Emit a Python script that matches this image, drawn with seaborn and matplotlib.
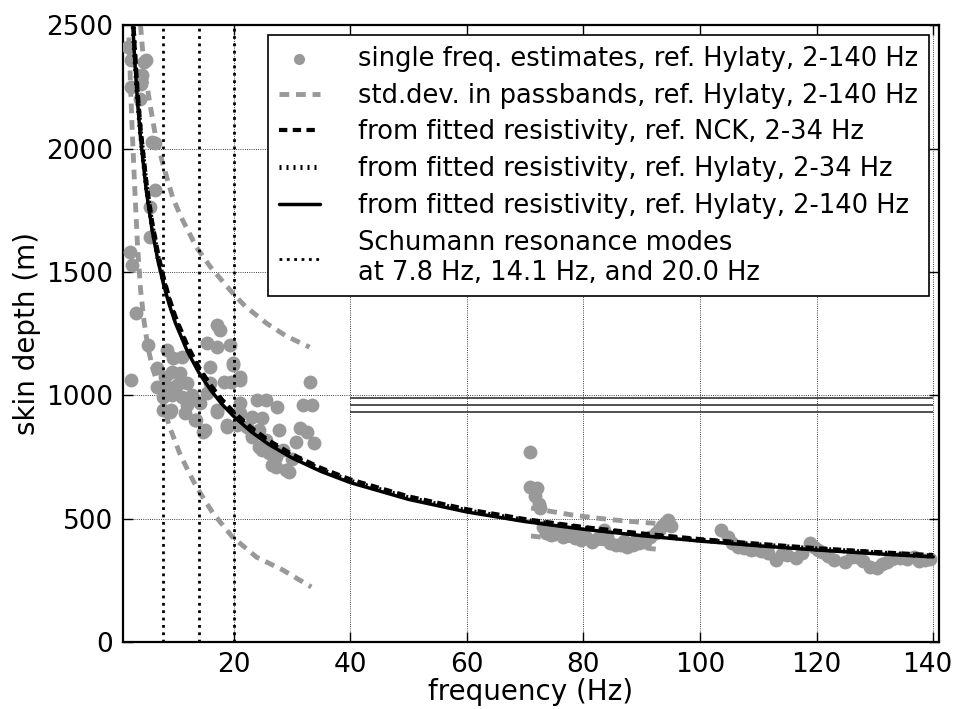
import numpy as np
import matplotlib
matplotlib.use("Agg")
import matplotlib.pyplot as plt
import matplotlib.transforms as mtransforms
import seaborn as sns

# single frequency estimates, 2-34 Hz band
low_f = [1.9, 2.3, 4.6, 4.3, 4.1, 3.9, 2.4, 5.0, 5.9, 6.5, 6.5, 5.6, 5.6, 2.2, 2.5,
         3.2, 5.3, 8.5, 9.5, 11.1, 6.8, 8.2, 9.4, 10.7, 6.8, 8.5, 10.2, 11.9,
         7.8, 9.4, 11.1, 12.8, 9.0, 11.6, 13.3, 12.5, 14.2, 15.4, 15.9, 17.1,
         15.0, 18.8, 15.4, 17.1, 19.3, 17.1, 17.6, 19.8, 21.0, 18.4, 19.6,
         21.0, 23.9, 25.6, 27.5, 31.8, 33.5, 33.0, 27.8, 31.3, 32.6, 33.8,
         30.7, 22.2, 23.2, 24.4, 26.1, 27.3, 29.0, 21.0, 23.1, 24.8, 23.1,
         24.4, 24.8, 27.3, 26.6, 29.5, 13.6, 2.4, 7.8, 9.3, 14.7, 17.1, 18.8,
         19.8, 21.0, 28.5, 30.0, 25.5, 20.5, 16.0, 12.0]
low_y = [2410, 2360, 2350, 2300, 2260, 2200, 2250, 2358, 2026, 2022, 1831, 1763,
         1641, 1580, 1527, 1333, 1203, 1183, 1151, 1155, 1110, 1074, 1094, 1090,
         1033, 1033, 1041, 1049, 993, 1001, 993, 1001, 932, 928, 900, 981, 968,
         1009, 1114, 932, 859, 879, 1211, 1195, 1203, 1284, 1264, 1122, 1074,
         1053, 1053, 968, 981, 981, 952, 960, 960, 1053, 859, 867, 851, 806,
         810, 871, 831, 790, 766, 709, 697, 928, 912, 908, 839, 859, 778, 750,
         717, 689, 900, 1062, 940, 940, 851, 940, 871, 1130, 1062, 780, 740,
         820, 880, 1050, 960]

# single frequency estimates, 70-140 Hz band
high_f = [70.9, 70.8, 72.0, 71.6, 72.3, 72.6, 73.0, 73.5, 74.5, 75.5, 76.5, 77.5,
          78.5, 79.5, 80.5, 81.5, 82.5, 83.5, 84.5, 85.5, 86.5, 87.5, 88.5, 89.5,
          90.5, 91.5, 92.5, 93.0, 93.5, 94.0, 94.5, 95.0,
          74.0, 76.0, 79.0, 84.0, 87.0, 89.0,
          103.6, 104.8, 105.5, 106.5, 107.5, 108.7, 109.5, 110.5, 111.6, 113.0,
          114.0, 115.0, 116.4, 117.5, 118.8, 119.5, 120.2, 121.0, 122.0, 123.0,
          124.8, 126.0, 127.0, 128.0, 129.2, 130.4, 131.2, 132.0, 133.0, 134.3,
          135.5, 136.7, 137.5, 138.6, 139.5]
high_y = [770, 628, 624, 590, 560, 545, 466, 440, 433, 440, 425, 433, 420, 413,
          425, 405, 420, 454, 400, 393, 395, 385, 392, 401, 405, 425, 442, 454,
          470, 482, 494, 470,
          455, 450, 440, 425, 410, 415,
          454, 425, 400, 385, 380, 373, 378, 370, 361, 332, 355, 352, 340, 360,
          401, 385, 373, 365, 350, 332, 324, 345, 344, 330, 304, 300, 318, 324,
          335, 340, 338, 344, 330, 332, 335]

# std. dev. curves in the passbands
std_lo_up_f = [4.0, 4.6, 5.6, 6.5, 7.8, 9.5, 11.0, 13.6, 16.0, 19.8, 22.0, 25.6, 29.0, 33.0]
std_lo_up_y = [2500, 2330, 2184, 2060, 1940, 1803, 1720, 1600, 1520, 1414, 1360, 1292, 1240, 1195]
std_lo_dn_f = [2.0, 2.5, 3.0, 3.5, 4.0, 4.6, 5.3, 6.1, 7.0, 8.0, 9.0, 10.7, 12.1,
               13.6, 16.4, 19.8, 23.9, 28.4, 33.3]
std_lo_dn_y = [2450, 2115, 1844, 1600, 1430, 1300, 1190, 1110, 1040, 950, 871, 766,
               697, 628, 523, 425, 344, 292, 223]
std_hi_up_f = [71.0, 75.0, 78.0, 82.0, 85.5, 90.0, 95.0]
std_hi_up_y = [543, 527, 515, 503, 494, 485, 476]
std_hi_dn_f = [71.0, 75.0, 80.0, 85.0, 90.0, 93.5]
std_hi_dn_y = [430, 418, 405, 395, 383, 373]

# skin depth from fitted resistivity
fit_f = [2, 2.5, 3, 3.5, 4, 5, 6, 7, 8, 9, 10, 12, 14, 16, 18, 20, 23, 26, 30, 35,
         40, 50, 60, 70, 80, 90, 100, 110, 120, 130, 140]
fit_nck = [2947, 2636, 2406, 2228, 2084, 1864, 1701, 1575, 1474, 1389, 1318, 1204,
           1114, 1042, 982, 932, 869, 817, 761, 705, 659, 590, 538, 498, 466, 440,
           417, 398, 380, 365, 352]
fit_hyl34 = [2918, 2610, 2383, 2206, 2063, 1845, 1685, 1559, 1459, 1376, 1305, 1192,
             1103, 1032, 973, 923, 861, 809, 753, 698, 652, 584, 532, 493, 462, 435,
             413, 394, 377, 362, 348]
fit_hyl140 = [2889, 2584, 2359, 2184, 2043, 1827, 1668, 1544, 1445, 1362, 1292, 1180,
              1092, 1022, 963, 914, 852, 801, 746, 691, 646, 578, 527, 488, 457, 431,
              409, 390, 373, 358, 345]

schumann = [7.8, 14.1, 20.0]
stray_y = [989, 961, 931]

sns.set_style("ticks", {"xtick.direction": "in", "ytick.direction": "in",
                        "text.color": "black", "axes.labelcolor": "black",
                        "xtick.color": "black", "ytick.color": "black"})
plt.rcParams['font.family'] = ['DejaVu Sans']

fig = plt.figure(figsize=(9.56, 7.09), dpi=100)
ax = fig.add_axes([0.1287, 0.0945, 0.8535, 0.870])

gray = '#999999'

# std.dev. lines (under the points)
std_kw = dict(color=gray, lw=3.5, linestyle=(0, (2, 1.4)), zorder=2)
l_std, = ax.plot(std_lo_up_f, std_lo_up_y, **std_kw)
ax.plot(std_lo_dn_f, std_lo_dn_y, **std_kw)
ax.plot(std_hi_up_f, std_hi_up_y, **std_kw)
ax.plot(std_hi_dn_f, std_hi_dn_y, **std_kw)

sns.scatterplot(x=low_f + high_f, y=low_y + high_y, ax=ax, color=gray, s=100,
                linewidth=0, zorder=3)
h_pts = ax.collections[-1]

sns.lineplot(x=fit_f, y=fit_hyl140, ax=ax, color='black', lw=2.5,
             estimator=None, sort=False, zorder=4)
h_140 = ax.lines[-1]
sns.lineplot(x=fit_f, y=fit_hyl34, ax=ax, color='black', lw=3.6,
             linestyle=(0, (0.4, 1.0)), estimator=None, sort=False, zorder=5)
h_34 = ax.lines[-1]
sns.lineplot(x=fit_f, y=fit_nck, ax=ax, color='black', lw=3,
             linestyle=(0, (2, 1.3)), estimator=None, sort=False, zorder=6)
h_nck = ax.lines[-1]

for f in schumann:
    h_sch = ax.axvline(f, color='black', lw=2, linestyle=':', zorder=4)

ax.hlines(stray_y, 40, 140, colors='#333333', lw=1.2, zorder=2)

ax.set_xlim(1, 141)
ax.set_ylim(0, 2500)
ax.set_xticks(range(20, 141, 20))
ax.set_yticks(range(0, 2501, 500))
ax.grid(True, color='black', linestyle=':', lw=0.6)
ax.tick_params(axis='both', which='both', top=True, right=True, length=7,
               width=1, labelsize=19, color='black', labelcolor='black', pad=7)
for sp in ax.spines.values():
    sp.set_linewidth(1.6)
    sp.set_color('black')
ax.set_xlabel('frequency (Hz)', fontsize=20, labelpad=0, color='black')
ax.set_ylabel('skin depth (m)', fontsize=20, labelpad=4, color='black')

# keep the last x tick label inside the canvas
fig.canvas.draw()
last = ax.get_xticklabels()[-1]
last.set_transform(last.get_transform() +
                   mtransforms.ScaledTranslation(-6 / 100, 0, fig.dpi_scale_trans))

handles = [h_pts, l_std, h_nck, h_34, h_140, h_sch]
labels = ['single freq. estimates, ref. Hylaty, 2-140 Hz',
          'std.dev. in passbands, ref. Hylaty, 2-140 Hz',
          'from fitted resistivity, ref. NCK, 2-34 Hz',
          'from fitted resistivity, ref. Hylaty, 2-34 Hz',
          'from fitted resistivity, ref. Hylaty, 2-140 Hz',
          'Schumann resonance modes\nat 7.8 Hz, 14.1 Hz, and 20.0 Hz']
leg = ax.legend(handles, labels, loc='upper right', fontsize=18.5, frameon=True,
                fancybox=False, edgecolor='black', framealpha=1,
                labelspacing=0.42, handlelength=1.6, handletextpad=1.5,
                borderaxespad=0.4, borderpad=0.4, markerscale=0.8,
                labelcolor='black')
leg.get_frame().set_linewidth(1.2)

fig.savefig('out.png', dpi=100)
